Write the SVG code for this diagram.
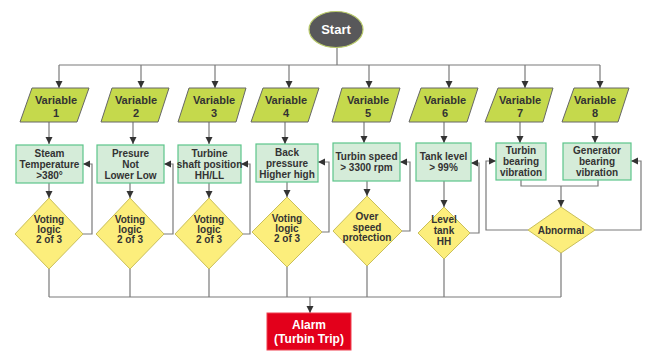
<svg xmlns="http://www.w3.org/2000/svg" width="646" height="352" viewBox="0 0 646 352">
<defs>
<marker id="ah" markerWidth="8" markerHeight="8" refX="7" refY="4" orient="auto" markerUnits="userSpaceOnUse">
<path d="M0,0.5 L7,4 L0,7.5 z" fill="#333"/>
</marker>
<style>
.ln{fill:none;stroke:#7a7a7a;stroke-width:1.2}
.ar{fill:none;stroke:#7a7a7a;stroke-width:1.2;marker-end:url(#ah)}
.var{fill:#c5d94c;stroke:#666;stroke-width:1}
.box{fill:#d5ecd9;stroke:#5cc58a;stroke-width:1.2}
.dia{fill:#fcee7c;stroke:#c9bf5a;stroke-width:1}
text{font-family:"Liberation Sans",Arial,sans-serif;font-weight:bold;fill:#333;text-anchor:middle}
.t11{font-size:11px}
.t10{font-size:10px}
.tw{fill:#fff;font-size:12px}
</style>
</defs>
<rect width="646" height="352" fill="#fff"/>
<g id="connectors">
<path class="ln" d="M337,47 V65 M59,65 H600"/>
<path class="ar" d="M59,65 V88"/>
<path class="ar" d="M141,65 V88"/>
<path class="ar" d="M215,65 V88"/>
<path class="ar" d="M289,65 V88"/>
<path class="ar" d="M369,65 V88"/>
<path class="ar" d="M449,65 V88"/>
<path class="ar" d="M525,65 V88"/>
<path class="ar" d="M600,65 V88"/>
<path class="ar" d="M49,122 V144"/>
<path class="ar" d="M133,122 V144"/>
<path class="ar" d="M209,122 V144"/>
<path class="ar" d="M285,122 V144"/>
<path class="ar" d="M364,122 V143"/>
<path class="ar" d="M444,122 V143"/>
<path class="ar" d="M520,122 V143"/>
<path class="ar" d="M595,122 V143"/>
<path class="ar" d="M49,183 V198"/>
<path class="ar" d="M130,183 V198"/>
<path class="ar" d="M209,183 V198"/>
<path class="ar" d="M287,182 V197"/>
<path class="ar" d="M367,181 V196"/>
<path class="ar" d="M444,181 V207"/>
<path class="ln" d="M521,180 V186 H598 V180"/>
<path class="ar" d="M561,186 V207"/>
<path class="ar" d="M83,234 H92 V164 H83"/>
<path class="ar" d="M164,234 H173 V164 H164"/>
<path class="ar" d="M243,234 H250 V164 H241"/>
<path class="ar" d="M322,232 H329 V162 H318"/>
<path class="ar" d="M402,231 H410 V162 H400"/>
<path class="ar" d="M470,233 H479 V163 H471"/>
<path class="ar" d="M528,230 H486 V161 H496"/>
<path class="ar" d="M595,230 H641 V161 H631"/>
<path class="ln" d="M49,269 V297 M130,269 V297 M209,269 V297 M287,267 V297 M367,266 V297 M444,259 V297 M561,253 V297 M49,297 H561"/>
<path class="ar" d="M310,297 V313"/>
</g>
<g id="start">
<ellipse cx="336" cy="29.5" rx="27" ry="18" fill="#58585a" stroke="#b8c96a" stroke-width="1.2"/>
<text x="336" y="34" style="fill:#fff;font-size:13px">Start</text>
</g>
<g id="var1"><polygon class="var" points="32,88 89,88 77,122 20,122"/><text class="t11" x="56" y="104">Variable</text><text class="t11" x="56" y="117">1</text></g>
<g id="var2"><polygon class="var" points="112,88 169,88 158,122 101,122"/><text class="t11" x="136" y="104">Variable</text><text class="t11" x="136" y="117">2</text></g>
<g id="var3"><polygon class="var" points="189,88 246,88 236,122 178,122"/><text class="t11" x="214" y="104">Variable</text><text class="t11" x="214" y="117">3</text></g>
<g id="var4"><polygon class="var" points="263,88 319,88 308,122 251,122"/><text class="t11" x="286" y="104">Variable</text><text class="t11" x="286" y="117">4</text></g>
<g id="var5"><polygon class="var" points="342,88 400,88 390,122 332,122"/><text class="t11" x="368" y="104">Variable</text><text class="t11" x="368" y="117">5</text></g>
<g id="var6"><polygon class="var" points="421,88 478,88 467,122 409,122"/><text class="t11" x="445" y="104">Variable</text><text class="t11" x="445" y="117">6</text></g>
<g id="var7"><polygon class="var" points="498,88 553,88 543,122 485,122"/><text class="t11" x="520" y="104">Variable</text><text class="t11" x="520" y="117">7</text></g>
<g id="var8"><polygon class="var" points="574,88 629,88 618,122 562,122"/><text class="t11" x="595" y="104">Variable</text><text class="t11" x="595" y="117">8</text></g>
<g id="box1"><rect class="box" x="16" y="145" width="67" height="38"/><text class="t10" x="49.5" y="157">Steam</text><text class="t10" x="49.5" y="168">Temperature</text><text class="t10" x="49.5" y="179">&gt;380°</text></g>
<g id="box2"><rect class="box" x="97" y="145" width="67" height="38"/><text class="t10" x="130.5" y="157">Presure</text><text class="t10" x="130.5" y="168">Not</text><text class="t10" x="130.5" y="179">Lower Low</text></g>
<g id="box3"><rect class="box" x="178" y="145" width="63" height="38"/><text class="t10" x="209.5" y="157">Turbine</text><text class="t10" x="209.5" y="168">shaft position</text><text class="t10" x="209.5" y="179">HH/LL</text></g>
<g id="box4"><rect class="box" x="256" y="144" width="62" height="38"/><text class="t10" x="287" y="156">Back</text><text class="t10" x="287" y="167">pressure</text><text class="t10" x="287" y="178">Higher high</text></g>
<g id="box5"><rect class="box" x="333" y="143" width="67" height="38"/><text class="t10" x="366.5" y="160">Turbin speed</text><text class="t10" x="366.5" y="171">&gt; 3300 rpm</text></g>
<g id="box6"><rect class="box" x="416" y="143" width="55" height="38"/><text class="t10" x="443.5" y="160">Tank level</text><text class="t10" x="443.5" y="171">&gt; 99%</text></g>
<g id="box7"><rect class="box" x="496" y="143" width="50" height="37"/><text class="t10" x="521" y="154">Turbin</text><text class="t10" x="521" y="165">bearing</text><text class="t10" x="521" y="176">vibration</text></g>
<g id="box8"><rect class="box" x="563" y="143" width="68" height="37"/><text class="t10" x="597" y="154">Generator</text><text class="t10" x="597" y="165">bearing</text><text class="t10" x="597" y="176">vibration</text></g>
<g id="dia1"><polygon class="dia" points="49,198 83,234 49,269 15,234"/><text class="t10" x="49" y="223">Voting</text><text class="t10" x="49" y="233">logic</text><text class="t10" x="49" y="243">2 of 3</text></g>
<g id="dia2"><polygon class="dia" points="130,198 164,234 130,269 96,234"/><text class="t10" x="130" y="223">Voting</text><text class="t10" x="130" y="233">logic</text><text class="t10" x="130" y="243">2 of 3</text></g>
<g id="dia3"><polygon class="dia" points="209,198 243,234 209,269 175,234"/><text class="t10" x="209" y="223">Voting</text><text class="t10" x="209" y="233">logic</text><text class="t10" x="209" y="243">2 of 3</text></g>
<g id="dia4"><polygon class="dia" points="287,197 322,232 287,267 252,232"/><text class="t10" x="287" y="222">Voting</text><text class="t10" x="287" y="232">logic</text><text class="t10" x="287" y="242">2 of 3</text></g>
<g id="dia5"><polygon class="dia" points="367,196 402,231 367,266 333,231"/><text class="t10" x="367" y="220">Over</text><text class="t10" x="367" y="231">speed</text><text class="t10" x="367" y="241">protection</text></g>
<g id="dia6"><polygon class="dia" points="444,207 470,233 444,259 418,233"/><text class="t10" x="444" y="223">Level</text><text class="t10" x="444" y="234">tank</text><text class="t10" x="444" y="245">HH</text></g>
<g id="abnormal"><polygon class="dia" points="561,207 595,230 561,253 528,230"/><text class="t10" x="561" y="234">Abnormal</text></g>
<g id="alarm"><rect x="267" y="313" width="84" height="37" fill="#e3001b" stroke="#f04050" stroke-width="1"/><text class="tw" x="309" y="329">Alarm</text><text class="tw" x="309" y="343">(Turbin Trip)</text></g>
</svg>
